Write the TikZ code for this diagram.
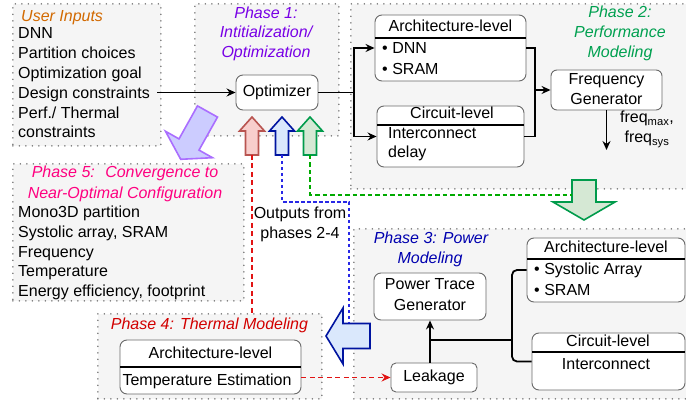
\documentclass[tikz,border=0pt]{standalone}
\usepackage{fontspec}
\setmainfont{Liberation Sans}
\usetikzlibrary{arrows.meta}
\definecolor{dotgray}{RGB}{120,120,120}
\definecolor{boxgray}{RGB}{245,245,245}
\definecolor{rgray}{RGB}{105,105,105}
\definecolor{cUI}{RGB}{210,105,0}
\definecolor{cP1}{RGB}{120,0,230}
\definecolor{cP2}{RGB}{0,160,80}
\definecolor{cP3}{RGB}{0,0,175}
\definecolor{cP4}{RGB}{210,0,0}
\definecolor{cP5}{RGB}{255,0,128}
\definecolor{redfill}{RGB}{248,206,204}
\definecolor{redline}{RGB}{184,84,80}
\definecolor{bluefill}{RGB}{218,232,252}
\definecolor{blueline}{RGB}{0,20,160}
\definecolor{greenfill}{RGB}{213,232,212}
\definecolor{greenline}{RGB}{0,155,75}
\definecolor{purfill}{RGB}{204,204,255}
\definecolor{purline}{RGB}{170,110,255}
\definecolor{reddash}{RGB}{225,20,20}
\definecolor{bluedash}{RGB}{40,40,230}
\definecolor{greendash}{RGB}{0,170,0}
\begin{document}
\begin{tikzpicture}[x=1pt,y=-1pt,
  phasebox/.style={draw=dotgray, fill=boxgray, line width=1.7pt, dash pattern=on 0pt off 6.5pt, line cap=round, inner sep=0pt, anchor=north west},
  rbox/.style={draw=rgray, fill=white, line width=0.9pt, rounded corners=7pt, inner sep=0pt},
  txt/.style={inner sep=0pt, anchor=base},
  ltxt/.style={inner sep=0pt, anchor=base west},
  divider/.style={line width=1.4pt, draw=black},
  wire/.style={line width=1.8pt},
  conn/.style={line width=1.8pt, -{Stealth[length=9pt,width=8pt,inset=3pt]}},
  hollow/.style={line width=1.6pt, line join=miter},
  rdash/.style={draw=reddash, line width=1.5pt, dash pattern=on 5pt off 3.5pt},
  bdash/.style={draw=bluedash, line width=1.4pt, dash pattern=on 3.5pt off 2.5pt},
  gdash/.style={draw=greendash, line width=1.4pt, dash pattern=on 4.5pt off 3pt}]
\fontsize{16}{19.8}\selectfont
\useasboundingbox (0,0) rectangle (686,403);

% phase regions
\node[phasebox, minimum width=148pt, minimum height=142pt] (ui) at (12,3) {};
\node[phasebox, minimum width=144pt, minimum height=132pt] (p1) at (194,3) {};
\node[phasebox, minimum width=340pt, minimum height=185pt] (p2) at (350,3) {};
\node[phasebox, minimum width=231pt, minimum height=137pt] (p5) at (12,163) {};
\node[phasebox, minimum width=337pt, minimum height=170pt] (p3) at (353,228) {};
\node[phasebox, minimum width=224pt, minimum height=85pt] (p4) at (97,313) {};

% user inputs
\node[ltxt, font=\itshape, text=cUI] (uit) at (21,22) {User Inputs};
\node[ltxt] (ui1) at (18,39) {DNN};
\node[ltxt] (ui2) at (18,59) {Partition choices};
\node[ltxt] (ui3) at (18,79) {Optimization goal};
\node[ltxt] (dc) at (18,99) {Design constraints};
\node[ltxt] (ui5) at (18,118.5) {Perf./ Thermal};
\node[ltxt] (ui6) at (18,138) {constraints};

% phase 1
\node[txt, font=\itshape, text=cP1] (p1a) at (266,18.3) {Phase 1:};
\node[txt, font=\itshape, text=cP1] (p1b) at (266,38) {Intitialization/};
\node[txt, font=\itshape, text=cP1] (p1c) at (266,58) {Optimization};
\node[rbox, minimum width=82pt, minimum height=35pt] (opt) at (277,92.5) {Optimizer};
\coordinate (dce) at (157,92.5);
\draw[conn] (dce) -- (opt.west);

% phase 2
\node[txt, font=\itshape, text=cP2] (p2a) at (620,18) {Phase 2:};
\node[txt, font=\itshape, text=cP2] (p2b) at (620,38) {Performance};
\node[txt, font=\itshape, text=cP2] (p2c) at (620,58) {Modeling};
\node[rbox, minimum width=151pt, minimum height=66pt] (a2) at (450.5,48) {};
\draw[divider] (375,38) -- (526,38);
\node[txt] (a2t) at (450.5,32) {Architecture-level};
\node[ltxt] (a2b) at (382,53.5) {\textbullet\hspace{4.5pt}DNN};
\node[ltxt] (a2c) at (382,75) {\textbullet\hspace{4.5pt}SRAM};
\node[rbox, minimum width=147pt, minimum height=61pt] (c2) at (450.5,136.5) {};
\draw[divider] (377,125) -- (524,125);
\node[txt] (c2t) at (452,119) {Circuit-level};
\node[ltxt] (c2b) at (388,139) {Interconnect};
\node[ltxt] (c2c) at (388,158) {delay};
\node[rbox, rounded corners=6pt, minimum width=111pt, minimum height=40pt] (fg) at (606.5,90) {};
\node[txt] (fg1) at (606.5,85) {Frequency};
\node[txt] (fg2) at (606.5,105) {Generator};
\coordinate (sp) at (354,92.5);
\draw[wire] (opt.east) -- (sp);
\draw[conn] (sp) |- (a2.west);
\draw[conn] (sp) |- (c2.west);
\coordinate (mg) at (535,90);
\draw[wire] (a2.east) -| (mg) |- (c2.east);
\draw[conn] (mg) -- (fg.west);
\coordinate (fq) at (606.5,150);
\draw[conn] (fg.south) -- (fq);
\node[txt] (fq1) at (647,123) {freq\textsubscript{max},};
\node[txt] (fq2) at (647,143) {freq\textsubscript{sys}};

% hollow arrows into optimizer
\draw[hollow, fill=redfill, draw=redline] (245.5,155) -- (245.5,131) -- (239.5,131) -- (252,117) -- (264.5,131) -- (258.5,131) -- (258.5,155) -- cycle;
\draw[hollow, fill=bluefill, draw=blueline] (275.5,155) -- (275.5,131) -- (269.5,131) -- (282,117) -- (294.5,131) -- (288.5,131) -- (288.5,155) -- cycle;
\draw[hollow, fill=greenfill, draw=greenline] (303.5,155) -- (303.5,131) -- (297.5,131) -- (310,117) -- (322.5,131) -- (316.5,131) -- (316.5,155) -- cycle;
\coordinate (ra) at (252,155);
\coordinate (ba) at (282,155);
\coordinate (ga) at (310,155);

% big arrows
\draw[hollow, fill=purfill, draw=purline] (197.5,105.9) -- (217.5,117.1) -- (199,150.1) -- (212.5,157.7) -- (180.7,159.3) -- (165.5,131.3) -- (179,138.9) -- cycle;
\draw[hollow, fill=greenfill, draw=greenline] (572,180) -- (596,180) -- (596,202) -- (615,202) -- (584,220) -- (553,202) -- (572,202) -- cycle;
\draw[hollow, fill=bluefill, draw=blueline] (370,323.5) -- (343,323.5) -- (343,308) -- (326,336) -- (343,364) -- (343,348.5) -- (370,348.5) -- cycle;
\coordinate (gd) at (572,195);
\coordinate (bc) at (349,202);
\coordinate (bl) at (349,323);

% dashed feedback lines
\draw[rdash] (ra) -- (ra |- p4.north);
\draw[bdash] (ba) |- (bc) -- (bl);
\draw[gdash] (ga) |- (gd);
\node[txt] (out1) at (300,219) {Outputs from};
\node[txt] (out2) at (300,239) {phases 2-4};

% phase 5
\node[txt, font=\itshape, text=cP5] (p5a) at (125,178) {Phase 5:~ Convergence to};
\node[txt, font=\itshape, text=cP5] (p5b) at (125,199) {Near-Optimal Configuration};
\node[ltxt] (p51) at (18,218) {Mono3D partition};
\node[ltxt] (p52) at (18,238) {Systolic array, SRAM};
\node[ltxt] (p53) at (18,257.5) {Frequency};
\node[ltxt] (p54) at (18,277) {Temperature};
\node[ltxt] (p55) at (18,297) {Energy efficiency, footprint};

% phase 3
\node[txt, font=\itshape, text=cP3] (p3a) at (431,244) {Phase 3: Power};
\node[txt, font=\itshape, text=cP3] (p3b) at (430,264) {Modeling};
\node[rbox, minimum width=112pt, minimum height=47pt] (ptg) at (430,296.5) {};
\node[txt] (ptg1) at (430,290) {Power Trace};
\node[txt] (ptg2) at (430,311) {Generator};
\node[rbox, rounded corners=5pt, minimum width=86pt, minimum height=29pt] (lk) at (434,377.5) {Leakage};
\node[rbox, minimum width=158pt, minimum height=64pt] (a3) at (606,270) {};
\draw[divider] (527,259) -- (685,259);
\node[txt] (a3t) at (606,253) {Architecture-level};
\node[ltxt] (a3b) at (534,275) {\textbullet\hspace{4.5pt}Systolic Array};
\node[ltxt] (a3c) at (534,296) {\textbullet\hspace{4.5pt}SRAM};
\node[rbox, minimum width=153pt, minimum height=57pt] (c3) at (608.5,361.5) {};
\draw[divider] (532,352) -- (685,352);
\node[txt] (c3t) at (608,347) {Circuit-level};
\node[txt] (c3b) at (606,370) {Interconnect};
\draw[conn] (ptg.south |- lk.north) -- (ptg.south);
\coordinate (j3) at (430,340);
\coordinate (br) at (512,340);
\draw[wire] (j3) -- (br);
\draw[wire, rounded corners=5pt] (a3.west) -| (br) |- (c3.west);

% phase 4
\node[txt, font=\itshape, text=cP4] (p4t) at (209.5,330) {Phase 4: Thermal Modeling};
\node[rbox, minimum width=181pt, minimum height=54pt] (a4) at (210.5,367) {};
\draw[divider] (120,367) -- (301,367);
\node[txt] (a4t) at (210.5,359) {Architecture-level};
\node[txt] (a4b) at (207,385.5) {Temperature Estimation};
\draw[rdash, -{Stealth[length=9pt,width=8pt,inset=3pt]}] (lk.west -| a4.east) -- (lk.west);
\end{tikzpicture}
\end{document}
